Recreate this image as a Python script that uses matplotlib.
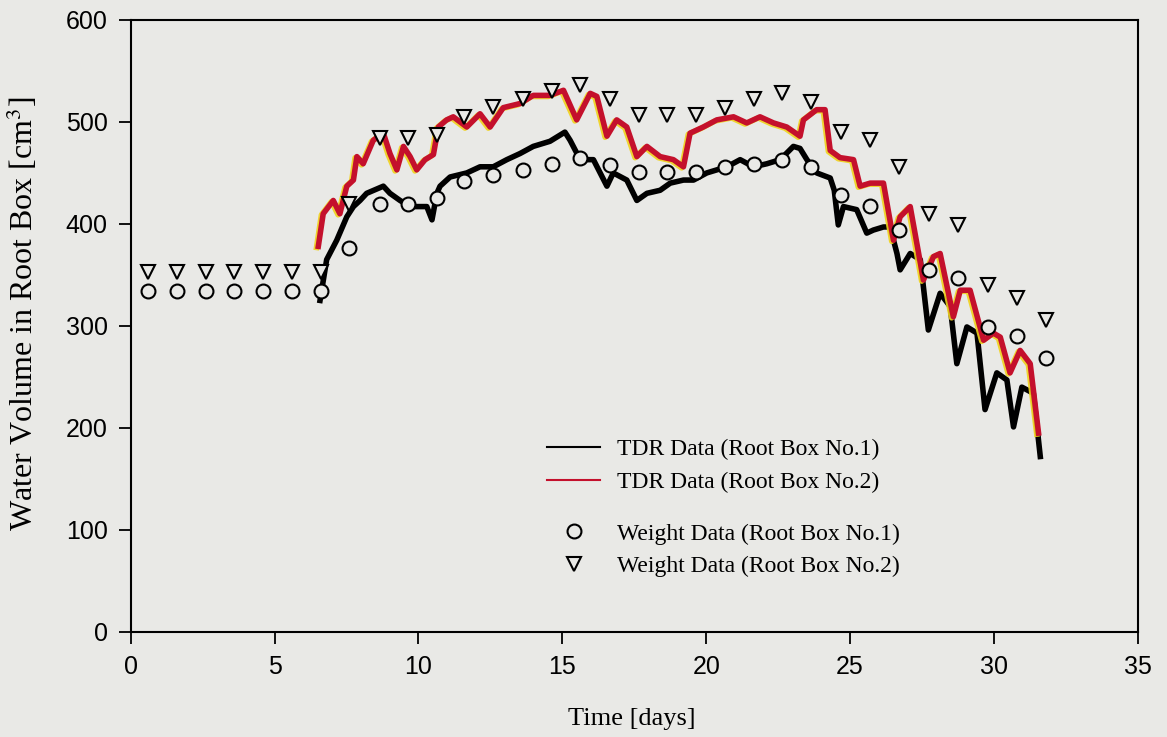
import matplotlib
matplotlib.use("Agg")
import matplotlib.pyplot as plt
import matplotlib.patheffects as pe
from matplotlib.lines import Line2D

plt.rcParams["mathtext.fontset"] = "stix"

# Weighing days and water volumes [cm3] from the balance
weight_days = [0.6, 1.6, 2.6, 3.6, 4.6, 5.6, 6.6, 7.6, 8.65, 9.65, 10.65, 11.6,
               12.6, 13.65, 14.65, 15.6, 16.65, 17.65, 18.65, 19.65, 20.65,
               21.65, 22.65, 23.65, 24.7, 25.7, 26.7, 27.75, 28.75, 29.8,
               30.8, 31.8]
weight_box1 = [334, 334, 334, 334, 334, 334, 334, 376, 420, 420, 425, 442,
               448, 453, 459, 465, 458, 451, 451, 451, 456, 459, 463, 456,
               428, 418, 394, 355, 347, 299, 290, 269]
weight_box2 = [353, 353, 353, 353, 353, 353, 353, 420, 484, 484, 487, 505,
               515, 522, 530, 536, 522, 507, 507, 507, 514, 522, 528, 520,
               490, 482, 456, 410, 399, 340, 327, 306]

# TDR readings, root box No.1
tdr1_days = [6.58, 6.81, 7.16, 7.51, 7.74, 7.97, 8.20, 8.78, 9.01, 9.36, 9.71,
             10.06, 10.29, 10.47, 10.64, 10.75, 11.10, 11.68, 12.14, 12.60,
             13.07, 13.53, 13.99, 14.57, 15.09, 15.27, 15.62, 16.08, 16.55,
             16.77, 17.24, 17.59, 17.94, 18.40, 18.75, 19.21, 19.56, 20.02,
             20.72, 21.18, 21.64, 22.11, 22.57, 23.03, 23.26, 23.50, 23.84,
             24.31, 24.45, 24.59, 24.77, 25.23, 25.58, 25.81, 26.16, 26.39,
             26.63, 26.74, 27.09, 27.44, 27.72, 28.13, 28.48, 28.71, 29.06,
             29.41, 29.69, 30.10, 30.45, 30.68, 30.97, 31.37, 31.61]
tdr1_vol = [325, 365, 384, 407, 417, 423, 430, 437, 430, 423, 417,
            417, 417, 404, 430, 437, 446, 450, 456, 456,
            463, 469, 476, 481, 490, 482, 463, 463, 437,
            450, 443, 423, 430, 433, 440, 443, 443, 450,
            456, 463, 456, 459, 463, 476, 474, 463, 450,
            445, 433, 399, 417, 414, 391, 394, 397, 397,
            371, 355, 371, 365, 296, 332, 319, 263, 299,
            293, 218, 254, 247, 201, 240, 234, 172]

# TDR readings, root box No.2
tdr2_days = [6.52, 6.69, 7.04, 7.27, 7.51, 7.74, 7.86, 8.08, 8.43, 8.78, 9.01,
             9.25, 9.48, 9.71, 9.94, 10.23, 10.52, 10.69, 10.98, 11.21, 11.68,
             12.14, 12.49, 12.95, 13.53, 13.99, 14.57, 15.04, 15.50, 15.97,
             16.20, 16.55, 16.89, 17.24, 17.59, 17.94, 18.40, 18.86, 19.21,
             19.44, 19.90, 20.37, 20.95, 21.41, 21.87, 22.34, 22.80, 23.26,
             23.38, 23.84, 24.13, 24.31, 24.65, 25.12, 25.35, 25.70, 26.16,
             26.51, 26.74, 27.09, 27.55, 27.90, 28.13, 28.59, 28.83, 29.17,
             29.64, 29.98, 30.22, 30.56, 30.91, 31.26, 31.55]
tdr2_vol = [378, 410, 423, 410, 437, 443, 466, 459, 482, 489, 469,
            453, 476, 466, 453, 463, 468, 495, 502, 505, 495,
            508, 495, 514, 518, 526, 526, 531, 502, 528,
            525, 486, 502, 495, 466, 476, 466, 463, 456,
            489, 495, 502, 505, 499, 505, 499, 495, 486,
            502, 512, 512, 472, 465, 463, 437, 440, 440,
            384, 407, 417, 345, 368, 371, 309, 335, 335,
            286, 293, 289, 254, 276, 263, 195]

bg = "#e9e9e6"
red = "#c4102c"

fig = plt.figure(figsize=(11.67, 7.37), dpi=100, facecolor=bg)
ax = fig.add_axes([0.112, 0.1425, 0.863, 0.8305], facecolor=bg)

ax.plot(tdr1_days, tdr1_vol, color="black", lw=4, zorder=3)
ax.plot(tdr2_days, tdr2_vol, color=red, lw=4, zorder=3,
        path_effects=[pe.SimpleLineShadow(offset=(-1.3, -0.8),
                                          shadow_color="#f0d21c", alpha=0.9),
                      pe.Normal()])
ax.plot(weight_days, weight_box1, ls="none", marker="o", ms=10, mew=1.5,
        mec="black", mfc=bg, zorder=4)
ax.plot(weight_days, weight_box2, ls="none", marker="v", ms=10, mew=1.5,
        mec="black", mfc=bg, zorder=4)

ax.set_xlim(0, 35)
ax.set_ylim(0, 600)
ax.set_xticks(range(0, 36, 5))
ax.set_yticks(range(0, 601, 100))
for s in ax.spines.values():
    s.set_linewidth(1.5)
ax.tick_params(direction="out", length=8.5, width=1.3, labelsize=18, pad=8)
for lab in ax.get_xticklabels() + ax.get_yticklabels():
    lab.set_fontfamily("Liberation Sans")

serif = "Liberation Serif"
ax.set_xlabel("Time [days]", fontsize=19, family=serif)
ax.set_ylabel("Water Volume in Root Box [cm$^3$]", fontsize=23, family=serif)
ax.xaxis.set_label_coords(0.498, -0.124)
ax.yaxis.set_label_coords(-0.09, 0.52)

# legends: TDR lines on top, weighing markers below
leg_kw = dict(loc="upper left", frameon=False, borderpad=0, borderaxespad=0,
              handlelength=2.25, handletextpad=0.72, labelspacing=0.46,
              prop={"family": serif, "size": 17})
line_handles = [Line2D([], [], color="black", lw=1.5),
                Line2D([], [], color=red, lw=1.5)]
fig.legend(line_handles,
           ["TDR Data (Root Box No.1)", "TDR Data (Root Box No.2)"],
           bbox_to_anchor=(547 / 1167, 1 - 439 / 737), **leg_kw)
mark_handles = [Line2D([], [], ls="none", marker="o", ms=10, mew=1.5,
                       mec="black", mfc=bg),
                Line2D([], [], ls="none", marker="v", ms=10, mew=1.5,
                       mec="black", mfc=bg)]
fig.legend(mark_handles,
           ["Weight Data (Root Box No.1)", "Weight Data (Root Box No.2)"],
           bbox_to_anchor=(547 / 1167, 1 - 523 / 737), **leg_kw)

fig.savefig("out.png", dpi=100, facecolor=bg)
